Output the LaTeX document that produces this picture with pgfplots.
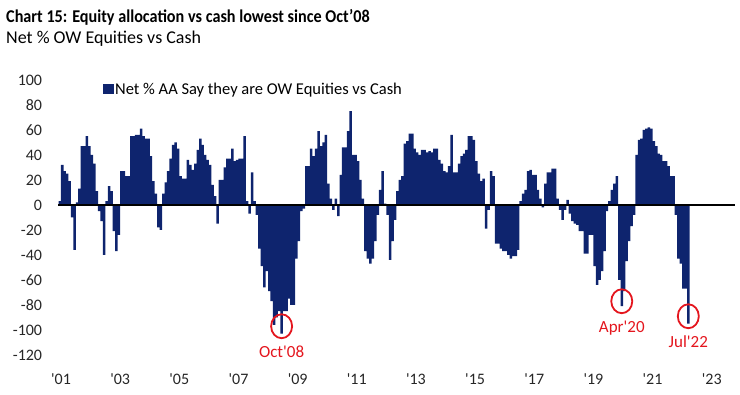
\documentclass[border=0pt]{standalone}
\usepackage{pgfplots}
\pgfplotsset{compat=1.18}
\usepackage{fontspec}
\setmainfont{Carlito}
\newfontfamily\titlefont{Carlito}[FakeStretch=0.9]
\definecolor{navy}{RGB}{14,36,110}
\definecolor{bred}{RGB}{228,22,30}
\begin{document}
\begin{tikzpicture}
\path[use as bounding box] (0,0) rectangle (740pt,395pt);
\node[anchor=base west, inner sep=0pt] at (6pt,372.3pt) {\titlefont\bfseries\fontsize{18}{20}\selectfont Chart 15: Equity allocation vs cash lowest since Oct’08};
\node[anchor=base west, inner sep=0pt] at (6pt,351pt) {\fontsize{18}{20}\selectfont Net \% OW Equities vs Cash};
\begin{axis}[
  at={(58.3pt,40pt)}, anchor=south west,
  scale only axis, width=676.6pt, height=275pt,
  xmin=2.4, xmax=276.9, ymin=-120, ymax=100,
  axis line style={draw=none}, major tick length=0pt,
  ytick={-120,-100,...,100},
  xtick={3.5,27.5,51.5,75.5,99.5,123.5,147.5,171.5,195.5,219.5,243.5,267.5},
  xticklabels={\textquotesingle01,\textquotesingle03,\textquotesingle05,\textquotesingle07,\textquotesingle09,\textquotesingle11,\textquotesingle13,\textquotesingle15,\textquotesingle17,\textquotesingle19,\textquotesingle21,\textquotesingle23},
  /pgf/number format/assume math mode=true,
  ticklabel style={font=\fontsize{16}{18}\selectfont, text=black!85},
  yticklabel style={anchor=east, inner sep=0pt, xshift=-16pt},
  xticklabel style={anchor=north, inner sep=0pt, yshift=-19pt},
  legend style={at={(axis description cs:0.066,0.995)}, anchor=north west, draw=none, fill=none, inner sep=0pt, font=\fontsize{16.5}{19}\selectfont, nodes={inner sep=1pt}},
  clip=false,
]
\addplot[ybar, bar width=1.02, bar shift=0pt, fill=navy, draw=none,
  legend image code/.code={\fill[navy] (0pt,-5pt) rectangle (11pt,5pt);}]
coordinates {
(3,3) (4,32) (5,27) (6,25) (7,19) (8,-10) (9,-36) (10,2) (11,13) (12,47)
(13,47) (14,55) (15,47) (16,40) (17,33) (18,11) (19,-5) (20,-13) (21,-40) (22,3)
(23,15) (24,11) (25,-21) (26,-37) (27,-24) (28,27) (29,27) (30,23) (31,23) (32,55)
(33,55) (34,56) (35,56) (36,61) (37,55) (38,53) (39,53) (40,39) (41,19) (42,9)
(43,-18) (44,-20) (45,9) (46,18) (47,27) (48,37) (49,48) (50,50) (51,45) (52,23)
(53,21) (54,21) (55,36) (56,32) (57,28) (58,33) (59,44) (60,53) (61,48) (62,40)
(63,36) (64,32) (65,16) (66,7) (67,-15) (68,20) (69,20) (70,30) (71,37) (72,37)
(73,45) (74,35) (75,36) (76,37) (77,37) (78,55) (79,3) (80,-7) (81,26) (82,3)
(83,-8) (84,-35) (85,-49) (86,-66) (87,-53) (88,-69) (89,-77) (90,-96) (91,-90) (92,-85)
(93,-103) (94,-85) (95,-85) (96,-75) (97,-80) (98,-80) (99,-43) (100,-29) (101,-5) (102,-3)
(103,31) (104,31) (105,45) (106,39) (107,45) (108,59) (109,47) (110,50) (111,56) (112,17)
(113,5) (114,-4) (115,5) (116,-9) (117,24) (118,46) (119,46) (120,59) (121,75) (122,40)
(123,40) (124,35) (125,20) (126,5) (127,-37) (128,-43) (129,-47) (130,-43) (131,-29) (132,-8)
(133,12) (134,27) (135,1) (136,-8) (137,-44) (138,-29) (139,-12) (140,11) (141,20) (142,23)
(143,49) (144,51) (145,57) (146,57) (147,45) (148,42) (149,40) (150,44) (151,44) (152,42)
(153,43) (154,42) (155,45) (156,45) (157,36) (158,33) (159,27) (160,26) (161,31) (162,56)
(163,26) (164,26) (165,33) (166,39) (167,41) (168,44) (169,55) (170,55) (171,52) (172,35)
(173,25) (174,19) (175,21) (176,-19) (177,-4) (178,27) (179,23) (180,-31) (181,-31) (182,-35)
(183,-37) (184,-37) (185,-40) (186,-43) (187,-41) (188,-41) (189,-36) (190,3) (191,9) (192,12)
(193,27) (194,28) (195,24) (196,24) (197,12) (198,5) (199,-2) (200,17) (201,26) (202,26)
(203,29) (204,29) (205,5) (206,-4) (207,-12) (208,-4) (209,4) (210,-7) (211,-13) (212,-15)
(213,-16) (214,-21) (215,-21) (216,-39) (217,-39) (218,-24) (219,-24) (220,-49) (221,-64) (222,-60)
(223,-53) (224,-37) (225,-5) (226,3) (227,12) (228,17) (229,23) (230,-60) (231,-81) (232,-69)
(233,-45) (234,-29) (235,-17) (236,-8) (237,40) (238,52) (239,53) (240,60) (241,61) (242,62)
(243,61) (244,51) (245,47) (246,41) (247,40) (248,35) (249,35) (250,31) (251,23) (252,23)
(253,-8) (254,-43) (255,-47) (256,-67) (257,-67) (258,-95)
};
\addlegendentry{Net \% AA Say they are OW Equities vs Cash}
\addplot[black, line width=1.6pt, forget plot] coordinates {(2.4,0) (276.9,0)};
\addplot[only marks, mark=o, mark size=10.5pt, mark options={draw=bred, line width=1.8pt, yscale=1.14},
  forget plot, nodes near coords, point meta=explicit symbolic,
  every node near coord/.append style={font=\fontsize{17}{19}\selectfont, text=bred, anchor=north, inner sep=0pt, yshift=-18.5pt}]
coordinates {(93,-97) [Oct\textquotesingle08] (231,-77) [Apr\textquotesingle20] (258,-89) [Jul\textquotesingle22]};
\end{axis}
\end{tikzpicture}
\end{document}
